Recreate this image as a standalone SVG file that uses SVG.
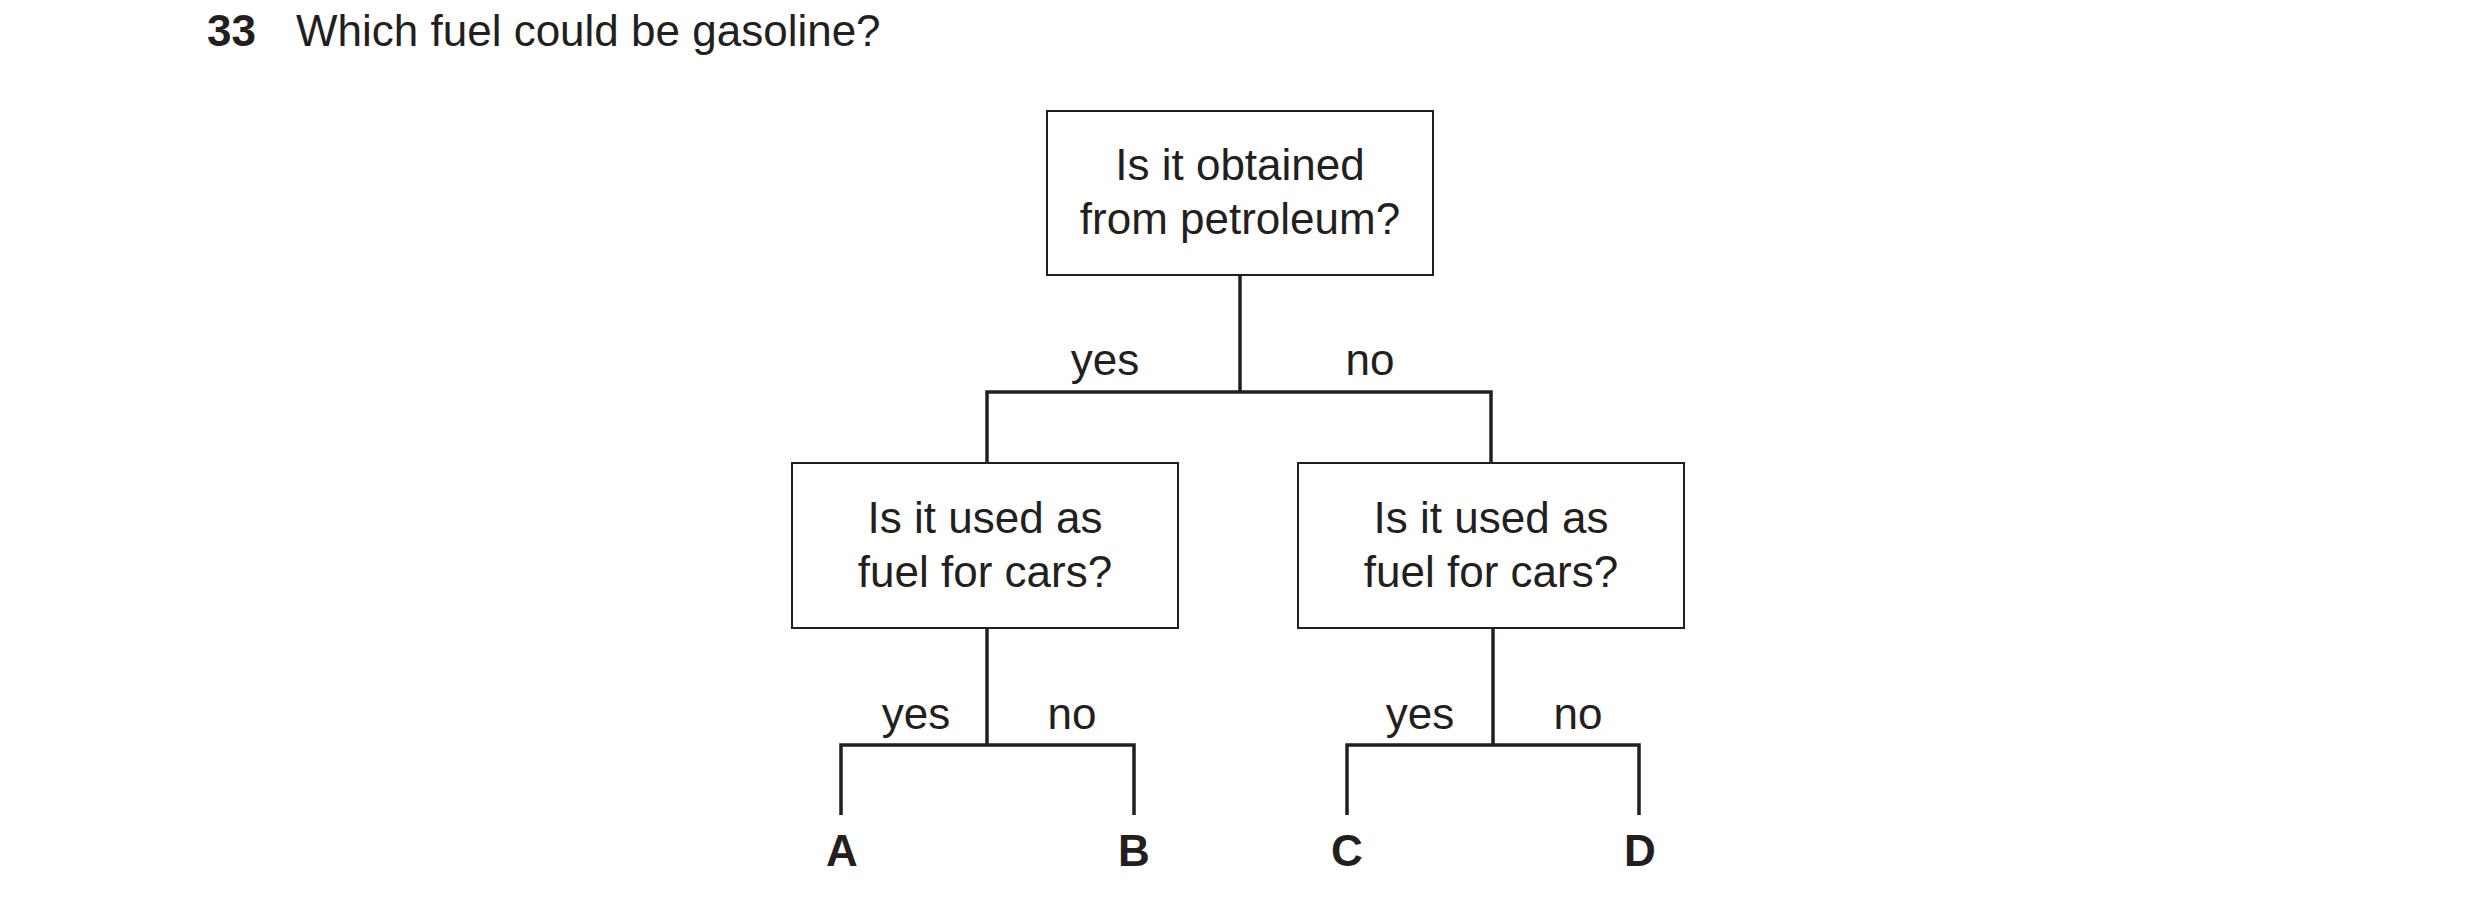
<svg xmlns="http://www.w3.org/2000/svg" width="2480" height="907" viewBox="0 0 2480 907">
<style>
text{font-family:"Liberation Sans",Arial,sans-serif;fill:#231f20;font-size:44px}
.c{text-anchor:middle}
.b{font-weight:bold}
.box{fill:#fff;stroke:#231f20;stroke-width:2}
.ln{fill:none;stroke:#231f20;stroke-width:3.5}
</style>
<rect width="2480" height="907" fill="#fff"/>
<text class="b" x="207" y="46">33</text>
<text x="296" y="46">Which fuel could be gasoline?</text>
<g id="connectors" class="ln">
<path d="M1240 275V392M987 463V392H1491V463"/>
<path d="M987 628V745M841 815V745H1134V815"/>
<path d="M1493 628V745M1347 815V745H1639V815"/>
</g>
<g id="labels">
<text class="c" x="1105" y="375">yes</text>
<text class="c" x="1370" y="375">no</text>
<text class="c" x="916" y="729">yes</text>
<text class="c" x="1072" y="729">no</text>
<text class="c" x="1420" y="729">yes</text>
<text class="c" x="1578" y="729">no</text>
</g>
<g id="n1"><rect class="box" x="1047" y="111" width="386" height="164"/>
<text class="c" x="1240" y="180">Is it obtained</text><text class="c" x="1240" y="234">from petroleum?</text></g>
<g id="n2"><rect class="box" x="792" y="463" width="386" height="165"/>
<text class="c" x="985" y="533">Is it used as</text><text class="c" x="985" y="587">fuel for cars?</text></g>
<g id="n3"><rect class="box" x="1298" y="463" width="386" height="165"/>
<text class="c" x="1491" y="533">Is it used as</text><text class="c" x="1491" y="587">fuel for cars?</text></g>
<g id="A"><text class="c b" x="842" y="866">A</text></g>
<g id="B"><text class="c b" x="1134" y="866">B</text></g>
<g id="C"><text class="c b" x="1347" y="866">C</text></g>
<g id="D"><text class="c b" x="1640" y="866">D</text></g>
</svg>
